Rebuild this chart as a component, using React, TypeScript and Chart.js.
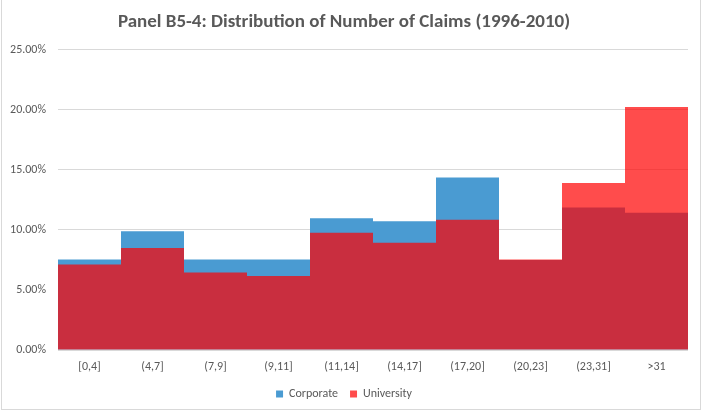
import React, { useEffect, useRef } from "react";
import { Chart, registerables } from "chart.js";

Chart.register(...registerables);

const TITLE = "Panel B5-4: Distribution of Number of Claims (1996-2010)";
const categories = ["[0,4]", "(4,7]", "(7,9]", "(9,11]", "(11,14]", "(14,17]", "(17,20]", "(20,23]", "(23,31]", ">31"];
const corporate = [7.54, 9.89, 7.54, 7.54, 10.98, 10.73, 14.36, 7.5, 11.87, 11.43];
const university = [7.12, 8.49, 6.45, 6.17, 9.77, 8.94, 10.84, 7.54, 13.91, 20.23];
const yTicksMax = 25;
const yTicksStep = 5;

const FONT = 'Carlito, Calibri, "Liberation Sans Narrow", Lato, "Open Sans", sans-serif';
const TEXT = "#595959";

export default function App() {
  const ref = useRef<HTMLCanvasElement | null>(null);

  useEffect(() => {
    if (!ref.current) return;
    const chart = new Chart(ref.current, {
      type: "bar",
      data: {
        labels: categories,
        datasets: [
          {
            label: "Corporate",
            data: corporate,
            backgroundColor: "rgb(74,155,210)",
            borderWidth: 0,
            inflateAmount: 0,
            grouped: false,
            order: 2,
            categoryPercentage: 1,
            barPercentage: 1,
          } as any,
          {
            label: "University",
            data: university,
            backgroundColor: "rgba(255,0,0,0.7)",
            borderWidth: 0,
            inflateAmount: 0,
            grouped: false,
            order: 1,
            categoryPercentage: 1,
            barPercentage: 1,
          } as any,
        ],
      },
      options: {
        animation: false,
        responsive: false,
        maintainAspectRatio: false,
        layout: { padding: { left: 0, right: 13, top: 0, bottom: 3 } },
        plugins: {
          title: {
            display: true,
            text: TITLE,
            color: TEXT,
            font: { family: FONT, size: 19, weight: "bold" },
            padding: { top: 11, bottom: 16 },
          },
          legend: {
            position: "bottom",
            labels: {
              color: TEXT,
              font: { family: FONT, size: 12 },
              boxWidth: 7,
              boxHeight: 7,
              padding: 12,
              sort: (a: any, b: any) => a.datasetIndex - b.datasetIndex,
            },
          },
          tooltip: { enabled: false },
        },
        scales: {
          x: {
            grid: { display: false, drawTicks: false },
            border: { display: false },
            ticks: { color: TEXT, font: { family: FONT, size: 12 }, padding: 10, maxRotation: 0 },
            afterFit: (s: any) => {
              s.height = 26;
            },
          },
          y: {
            min: 0,
            max: yTicksMax,
            grid: { color: "#d9d9d9", drawTicks: false, lineWidth: 1 },
            border: { display: false },
            ticks: {
              stepSize: yTicksStep,
              color: TEXT,
              font: { family: FONT, size: 12 },
              padding: 12,
              callback: (v: any) => Number(v).toFixed(2) + "%",
            },
            afterFit: (s: any) => {
              s.width = 58;
            },
          },
        },
      },
    });
    return () => chart.destroy();
  }, []);

  return (
    <div style={{ position: "absolute", left: 0, top: 0, width: 701, height: 413, background: "#fff" }}>
      <canvas ref={ref} width={701} height={413} style={{ position: "absolute", left: 0, top: 0 }} />
      <div
        style={{
          position: "absolute",
          left: 1,
          top: -2,
          width: 698,
          height: 411,
          borderLeft: "1px solid #d9d9d9",
          borderRight: "1px solid #d9d9d9",
          borderBottom: "1px solid #d9d9d9",
          pointerEvents: "none",
        }}
      />
    </div>
  );
}
